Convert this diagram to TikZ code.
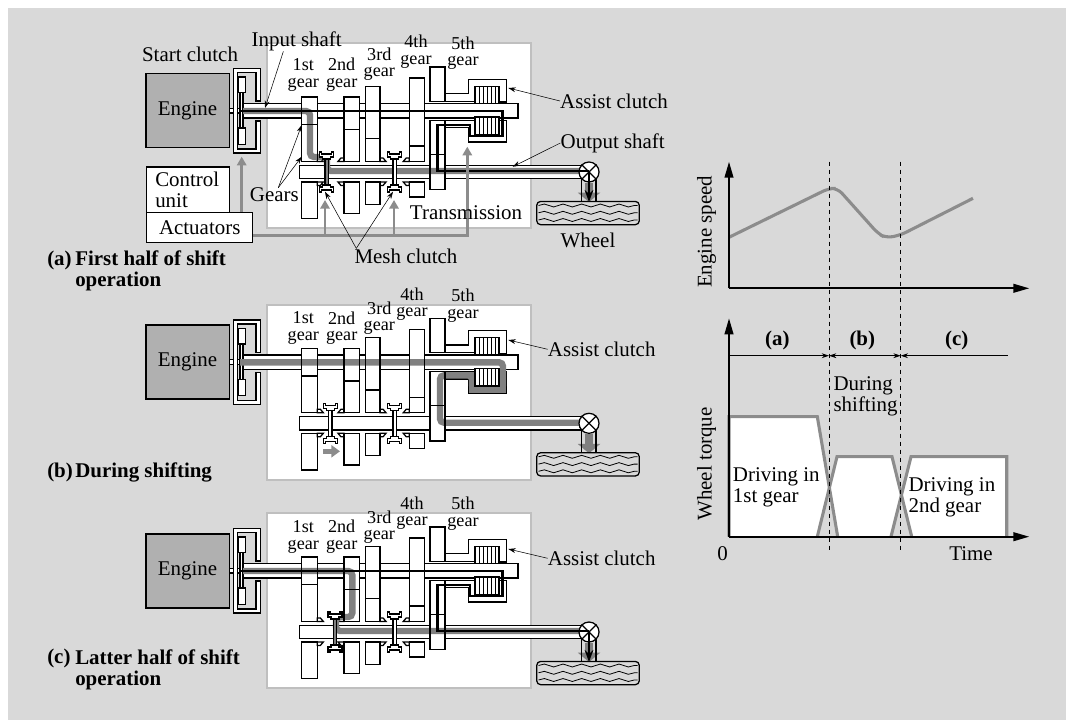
\documentclass[tikz,border=0pt]{standalone}
\usepackage{fontspec}
\setmainfont{Liberation Serif}
\usetikzlibrary{positioning,arrows.meta,decorations.pathmorphing}
\definecolor{panelbg}{gray}{0.85}
\definecolor{enginegray}{gray}{0.69}
\definecolor{flowgray}{gray}{0.5}
\definecolor{boxedge}{gray}{0.75}
\definecolor{ctrlgray}{gray}{0.55}

% gear blanks, drawn twice so that their edges sit on the grey flow
\newcommand{\gearbars}[1]{%
  \foreach \xa/\xb/\ya/\yb in {301.7/317.3/23/50.7,301.7/317.3/50.7/87.4,301.7/317.3/108/144.7,
      344/359.3/23/55.7,344/359.3/55.7/87.4,344/359.3/108/139.7,
      365.3/380/12.4/64.7,365.3/380/64.7/87.4,365.3/380/108/130.4,
      409.3/424.3/4/72,409.3/424.3/72/87.4,409.3/424.3/108/123,
      430/445/-7/27.4,430/445/46.4/80.4,430/445/80.4/115.7}
    {\draw[#1] (\xa,\ya) rectangle (\xb,\yb);}}
\newcommand{\plates}[2]{%
  \draw[part] (475,#1) rectangle (499,#2);
  \foreach \px in {479,483,487,491,495}
    {\draw[line width=0.7pt] (\px,#1) -- (\px,#2);}}
\newcommand{\gearbase}[1]{%
  \draw[part] (243,29.7) rectangle (518,44);
  \draw[part] (299.3,91.4) rectangle (581.7,104.7);
  \draw[part] (229,34.5) rectangle (243,39);
  \draw[part] (233.3,-5.3) -- (260.7,-5.3) -- (260.7,27) -- (256,27) -- (256,-1.3) -- (237.5,-1.3)
    -- (237.5,75) -- (256,75) -- (256,47) -- (260.7,47) -- (260.7,79) -- (233.3,79) -- cycle;
  \draw[part] (240,18.7) rectangle (243,54);
  \draw[part] (238,3) rectangle (245.7,18.7);
  \draw[part] (238,54) rectangle (245.7,70.4);
  \gearbars{part}
  \foreach \nx/\ns in {317.3/1,344/-1,380/1,409.3/-1} {
    \draw[part] (\nx,87.4) -- ++({\ns*6},0) -- ++({-\ns*3},-3.5) -- (\nx,83.9) -- cycle;
    \draw[part] (\nx,108) -- ++({\ns*6},0) -- ++({-\ns*3},3.5) -- (\nx,111.5) -- cycle;
  }
  \draw[part] (445,19.7) -- (468.3,19.7) -- (468.3,5.4) -- (506.7,5.4) -- (506.7,28) -- (499,28)
    -- (499,12.4) -- (475,12.4) -- (475,27.4) -- (445,27.4) -- cycle;
  \draw[part,fill=#1] (445,46.4) -- (475,46.4) -- (475,60.7) -- (499,60.7) -- (499,46.4) -- (506.7,46.4)
    -- (506.7,68) -- (468.3,68) -- (468.3,53.7) -- (445,53.7) -- cycle;}
\newcommand{\meshhub}[2]{%
  \draw[part,fill=#2] ({#1-1.8},85) rectangle ({#1+1.8},111);
  \draw[part] ({#1-7},78) -- ({#1-5},78) -- ({#1-5},80) -- ({#1+5},80) -- ({#1+5},78) -- ({#1+7},78)
    -- ({#1+7},83) -- ({#1+4},83) -- ({#1+4},85) -- ({#1-4},85) -- ({#1-4},83) -- ({#1-7},83) -- cycle;
  \draw[part] ({#1-7},118) -- ({#1-5},118) -- ({#1-5},116) -- ({#1+5},116) -- ({#1+5},118) -- ({#1+7},118)
    -- ({#1+7},113) -- ({#1+4},113) -- ({#1+4},111) -- ({#1-4},111) -- ({#1-4},113) -- ({#1-7},113) -- cycle;}
% differential, drive shaft and tyre
\newcommand{\finaldrive}[1]{%
  \node[diffnode] (diff#1) at (589,98) {};
  \draw[part] (diff#1.north west) -- (diff#1.south east);
  \draw[part] (diff#1.north east) -- (diff#1.south west);
  \coordinate (wheeltop#1) at (589,128);
  \draw[driveflow] (diff#1.south) -- (wheeltop#1);
  \draw[part,fill=none] (581.7,105) -- (581.7,127.4);
  \draw[part,fill=none] (596,105) -- (596,127.4);
  \draw[part,fill=none,rounded corners=3pt] (536.7,127.4) rectangle (639.3,150.7);
  \foreach \wy in {131.5,138.8,146}
    {\draw[line width=0.6pt,decorate,decoration={snake,amplitude=1.1pt,segment length=14pt}] (538.5,\wy) -- (637.5,\wy);}}
\newcommand{\gearnames}[6]{%
  \node[gearlbl] (gone#1) at (303.3,#2) {1st\\gear};
  \node[gearlbl] (gtwo#1) at (341.7,#2) {2nd\\gear};
  \node[gearlbl] (gthree#1) at (379.3,#3) {3rd\\gear};
  \node[gearlbl] (gfour#1) at (#4,#5) {4th\\gear};
  \node[gearlbl] (gfive#1) at (463,#6) {5th\\gear};}

\begin{document}
\begin{tikzpicture}[x=0.75pt,y=-0.75pt,>={Stealth[length=5.5pt,width=3.6pt]},
  font=\fontsize{15.7}{15.6}\selectfont,
  txt/.style={inner sep=0pt,align=left},
  boldtxt/.style={inner sep=0pt,align=left,font=\fontsize{15.7}{15.8}\bfseries},
  gearlbl/.style={inner sep=0pt,align=center,font=\fontsize{13.6}{12.5}\selectfont},
  part/.style={draw=black,fill=white,line width=0.95pt},
  enginebox/.style={draw=black,fill=enginegray,line width=0.95pt,minimum width=62.5pt,minimum height=55.5pt,inner sep=0pt},
  diffnode/.style={circle,draw=black,fill=white,line width=0.95pt,inner sep=0pt,minimum size=15pt},
  flow/.style={draw=flowgray,line width=4.8pt,rounded corners=3pt},
  driveflow/.style={draw=flowgray,line width=6pt,-{Triangle[length=7pt,width=16.5pt]}},
  powerline/.style={draw=black,line width=2.1pt},
  powerarrow/.style={draw=black,line width=2.1pt,-{Stealth[length=9pt,width=6.5pt]}},
  ctrl/.style={draw=ctrlgray,line width=2.2pt,-{Triangle[length=6.5pt,width=7pt]}},
  axis/.style={line width=1.5pt,-{Triangle[length=12pt,width=6.5pt]}},
  curve/.style={draw=ctrlgray,line width=2.3pt}]
\useasboundingbox (0,0) rectangle (1066,720);
\fill[panelbg] (8,8) rectangle (1066,720);
\fill[white,draw=boxedge,line width=1pt] (267,43) rectangle (531,228);
\fill[white,draw=boxedge,line width=1pt] (267,305) rectangle (531,480);
\fill[white,draw=boxedge,line width=1pt] (267,513) rectangle (531,688);

% (a) first half
\begin{scope}[shift={(0,74)}]
\gearbase{white}
\plates{12.4}{29.7}
\plates{43}{60.7}
\draw[flow] (243,37) -- (310,37) -- (310,83) -- (327,83) -- (327,97) -- (589,97);
\gearbars{draw=black,line width=0.95pt}
\meshhub{326.7}{flowgray}
\meshhub{394.7}{white}
\finaldrive{A}
\draw[powerline] (240,37) -- (502.7,37) -- (502.7,62) -- (470,62) -- (470,51) -- (437.7,51) -- (437.7,97) -- (589,97);
\draw[powerarrow] (diffA.center) -- (wheeltopA);
\end{scope}
\node[enginebox] (engineA) at (187.6,110.5) {Engine};
\gearnames{A}{75}{64.3}{416}{51.5}{53.3}
\node[txt] (startlbl) at (190,54) {Start clutch};
\node[txt] (inputlbl) at (296.7,41.5) {Input shaft};
\coordinate (inputpt) at (265,108);
\draw[->] ([xshift=-10pt]inputlbl.south) -- (inputpt);
\node[part,minimum width=62pt,minimum height=34.3pt,inner sep=0pt] (ctrlbox) at (188,190) {};
\node[txt,anchor=west] (ctrllbl) at (155,189.5) {Control\\unit};
\node[part,minimum width=79.5pt,minimum height=22.5pt,inner sep=0pt] (actbox) at (199.7,227.7) {Actuators};
\coordinate (tipclutch) at (241.7,156.7);
\draw[ctrl] (actbox.north -| tipclutch) -- (tipclutch);
\coordinate (busend) at (467.3,235.7);
\coordinate (tipfive) at (467.3,146.7);
\draw[ctrl] (actbox.east |- busend) -- (busend) -- (tipfive);
\foreach \nm/\bx in {one/325,two/394} {
  \coordinate (bus\nm) at (\bx,235.7);
  \coordinate (tip\nm) at (\bx,200);
  \draw[ctrl] (bus\nm) -- (tip\nm);
}
\node[txt] (gearslbl) at (274.3,195) {Gears};
\coordinate (gearpta) at (301.7,125);
\coordinate (gearptb) at (301.7,156.7);
\draw[->] ([xshift=3pt]gearslbl.north) -- (gearpta);
\draw[->] ([xshift=3pt]gearslbl.north) -- (gearptb);
\node[txt] (meshlbl) at (406,256) {Mesh clutch};
\coordinate (meshpta) at (325,191.7);
\coordinate (meshptb) at (393,191.7);
\draw[->] ([xshift=1.5pt]meshlbl.north west) -- (meshpta);
\draw[->] ([xshift=1.5pt]meshlbl.north west) -- (meshptb);
\node[txt] (translbl) at (466,213) {Transmission};
\node[txt] (assistA) at (614,101) {Assist clutch};
\coordinate (assistptA) at (508.3,88);
\draw[->] (assistA.west) -- (assistptA);
\node[txt] (outputlbl) at (612.7,143) {Output shaft};
\coordinate (outputpt) at (512.7,166.7);
\draw[->] (outputlbl.west) -- (outputpt);
\node[txt] (wheellbl) at (588,240) {Wheel};
\node[boldtxt,anchor=west] (capA) at (47,260) {(a)};
\node[boldtxt,anchor=west] (capAtxt) at (75,270.5) {First half of shift\\operation};

% (b) during shifting
\begin{scope}[shift={(0,325.3)}]
\gearbase{flowgray}
\plates{12.4}{29.7}
\draw[flow] (240,37) -- (503,37) -- (503,64) -- (472,64) -- (472,50) -- (440,50) -- (440,97.4) -- (589,97.4);
\gearbars{draw=black,line width=0.95pt}
\plates{43}{60.7}
\meshhub{330.3}{white}
\meshhub{394.7}{white}
\finaldrive{B}
\coordinate (shiftfrom) at (323,126);
\coordinate (shiftto) at (340,126);
\draw[draw=ctrlgray,line width=3.6pt,-{Triangle[length=6.5pt,width=9pt]}] (shiftfrom) -- (shiftto);
\end{scope}
\node[enginebox] (engineB) at (187.6,362) {Engine};
\gearnames{B}{328.3}{318.3}{412}{304.3}{305.7}
\node[txt] (assistB) at (601.7,349.3) {Assist clutch};
\coordinate (assistptB) at (508.3,340);
\draw[->] (assistB.west) -- (assistptB);
\node[boldtxt,anchor=west] (capB) at (47,472) {(b)};
\node[boldtxt,anchor=west] (capBtxt) at (75,472) {During shifting};

% (c) latter half
\begin{scope}[shift={(0,534)}]
\gearbase{white}
\plates{12.4}{29.7}
\plates{43}{60.7}
\draw[flow] (243,37) -- (352.3,37) -- (352.3,83) -- (336,83) -- (336,97) -- (589,97);
\gearbars{draw=black,line width=0.95pt}
\meshhub{335}{flowgray}
\meshhub{394.7}{white}
\finaldrive{C}
\draw[powerline] (240,37) -- (502.7,37) -- (502.7,62) -- (470,62) -- (470,51) -- (437.7,51) -- (437.7,97) -- (589,97);
\draw[powerarrow] (diffC.center) -- (wheeltopC);
\end{scope}
\node[enginebox] (engineC) at (187.6,571) {Engine};
\gearnames{C}{536.7}{527}{412}{513.3}{513.7}
\node[txt] (assistC) at (601.7,558.3) {Assist clutch};
\coordinate (assistptC) at (508.3,549);
\draw[->] (assistC.west) -- (assistptC);
\node[boldtxt,anchor=west] (capC) at (47,658) {(c)};
\node[boldtxt,anchor=west] (capCtxt) at (75,670) {Latter half of shift\\operation};

% engine speed
\coordinate (speedzero) at (729,288.3);
\coordinate (speedtop) at (729,161.7);
\coordinate (speedend) at (1029.3,288.3);
\draw[curve,rounded corners=5pt] (729,237.3) -- (829,188.3) -- (837.5,188.3) -- (878,233.5) -- (886,238) -- (900.7,235) -- (973,198.3);
\draw[axis] (speedzero) -- (speedtop);
\draw[axis] (speedzero) -- (speedend);
\node[txt,rotate=90] (speedlbl) at (706.7,231.7) {Engine speed};

% wheel torque
\coordinate (torquezero) at (729,536.7);
\coordinate (torquetop) at (729,318.3);
\coordinate (torqueend) at (1029.3,536.7);
\fill[white,even odd rule] (729,536.7) -- (729,416.7) -- (817.3,416.7) -- (837.7,536.7) -- cycle
  (817.3,536.7) -- (837,456.7) -- (892,456.7) -- (911.7,536.7) -- cycle
  (891,536.7) -- (911,456.7) -- (1006.7,456.7) -- (1006.7,536.7) -- cycle;
\draw[curve] (729,536.7) -- (729,416.7) -- (817.3,416.7) -- (837.7,536.7);
\draw[curve] (817.3,536.7) -- (837,456.7) -- (892,456.7) -- (911.7,536.7);
\draw[curve] (891,536.7) -- (911,456.7) -- (1006.7,456.7) -- (1006.7,536.7);
\draw[axis] (torquezero) -- (torquetop);
\draw[axis] (torquezero) -- (torqueend);
\coordinate (dasha) at (829,161.7);
\coordinate (dashb) at (900.7,161.7);
\coordinate (dashaend) at (829,551.7);
\coordinate (dashbend) at (900.7,551.7);
\draw[dashed,line width=0.75pt] (dasha) -- (dashaend);
\draw[dashed,line width=0.75pt] (dashb) -- (dashbend);
\coordinate (spanzero) at (729,355.7);
\coordinate (spana) at (829,355.7);
\coordinate (spanb) at (900.7,355.7);
\coordinate (spanend) at (1008.3,355.7);
\draw[->,line width=0.6pt] (spanzero) -- (spana);
\draw[<->,line width=0.6pt] (spana) -- (spanb);
\draw[<-,line width=0.6pt] (spanb) -- (spanend);
\node[boldtxt] (phasea) at (777.3,340) {(a)};
\node[boldtxt] (phaseb) at (862.3,340) {(b)};
\node[boldtxt] (phasec) at (956.7,340) {(c)};
\node[txt,anchor=west] (duringlbl) at (833.3,396) {During\\shifting};
\node[txt,anchor=west] (driveone) at (732.7,487.5) {Driving in\\1st gear};
\node[txt,anchor=west] (drivetwo) at (908.3,497) {Driving in\\2nd gear};
\node[txt,rotate=90] (torquelbl) at (706.7,464) {Wheel torque};
\node[txt] (zerolbl) at (722.7,554) {0};
\node[txt] (timelbl) at (971,554) {Time};
\end{tikzpicture}
\end{document}
